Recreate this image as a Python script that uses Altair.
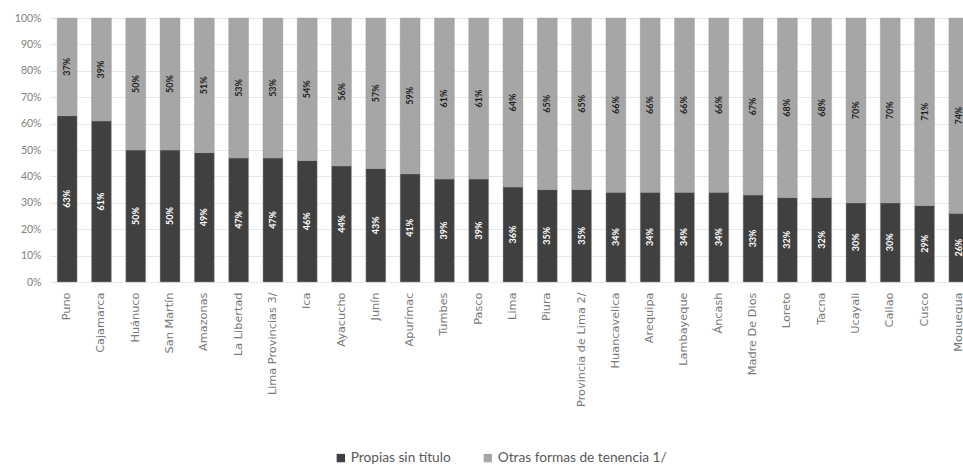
import altair as alt
import pandas as pd

regions = ["Puno", "Cajamarca", "Huánuco", "San Martín", "Amazonas", "La Libertad",
           "Lima Provincias 3/", "Ica", "Ayacucho", "Junín", "Apurímac", "Tumbes",
           "Pasco", "Lima", "Piura", "Provincia de Lima 2/", "Huancavelica", "Arequipa",
           "Lambayeque", "Áncash", "Madre De Dios", "Loreto", "Tacna", "Ucayali",
           "Callao", "Cusco", "Moquegua"]
propias = [63, 61, 50, 50, 49, 47, 47, 46, 44, 43, 41, 39, 39, 36, 35, 35, 34, 34,
           34, 34, 33, 32, 32, 30, 30, 29, 26]
otras = [37, 39, 50, 50, 51, 53, 53, 54, 56, 57, 59, 61, 61, 64, 65, 65, 66, 66,
         66, 66, 67, 68, 68, 70, 70, 71, 74]
series = ["Propias sin título", "Otras formas de tenencia 1/"]
colors = ["#404040", "#a6a6a6"]

rows = []
for i, r in enumerate(regions):
    rows.append({"region": r, "serie": series[0], "valor": propias[i], "orden": 0})
    rows.append({"region": r, "serie": series[1], "valor": otras[i], "orden": 1})
df = pd.DataFrame(rows)

FONT = "Lato"

base = alt.Chart(df).transform_stack(
    stack="valor", groupby=["region"], as_=["y0", "y1"],
    sort=[alt.SortField("orden", order="ascending")]
).transform_calculate(
    f0="datum.y0 / 100",
    f1="datum.y1 / 100",
    mid="(datum.y0 + datum.y1) / 200",
    lbl="datum.valor + '%'"
)

xscale = alt.Scale(range=[0, 926], paddingInner=0.42, paddingOuter=0.21)
xaxis = alt.Axis(labelAngle=-90, labelColor="#7a7a7a", labelFont="DejaVu Sans",
                 labelFontSize=11.3, labelPadding=10, ticks=False, domain=False,
                 labelLimit=200, labelOverlap=False)
yscale = alt.Scale(domain=[0, 1], nice=False)
yaxis = alt.Axis(format=".0%", tickCount=10, labelOverlap=False,
                 labelColor="#7f7f7f", labelFont=FONT, labelFontSize=10.5,
                 labelPadding=9, ticks=False, domain=False,
                 gridColor="#e6e6e6", gridWidth=1)

bars = base.mark_bar(stroke="#9a9a9a", strokeWidth=0.4).encode(
    x=alt.X("region:N", sort=regions, title=None, scale=xscale, axis=xaxis),
    y=alt.Y("f0:Q", title=None, scale=yscale, axis=yaxis),
    y2="f1:Q",
    color=alt.Color("serie:N", scale=alt.Scale(domain=series, range=colors),
                    legend=alt.Legend(orient="none", legendX=284, legendY=433,
                                      direction="horizontal", title=None,
                                      symbolType="square", symbolSize=70,
                                      symbolStrokeWidth=0, labelFont=FONT,
                                      labelFontSize=13.7, labelColor="#595959",
                                      columnPadding=30, symbolOffset=0,
                                      labelOffset=3, labelLimit=300)),
    order=alt.Order("orden:Q"),
)

labels = base.mark_text(angle=270, font=FONT, fontSize=9, fontWeight="bold",
                        baseline="middle", align="center").encode(
    x=alt.X("region:N", sort=regions, title=None, scale=xscale, axis=xaxis),
    y=alt.Y("mid:Q", title=None, scale=yscale, axis=yaxis),
    text="lbl:N",
    color=alt.condition(alt.datum.serie == series[0], alt.value("#ffffff"),
                        alt.value("#1f1f1f")),
)

chart = alt.layer(bars, labels).properties(
    width=913, height=264,
    autosize=alt.AutoSizeParams(type="none"),
    padding={"left": 50, "top": 18, "right": 0, "bottom": 183},
    background="white",
).configure_view(stroke=None)

chart.save("out.html", embed_options={"renderer": "svg", "actions": False})
